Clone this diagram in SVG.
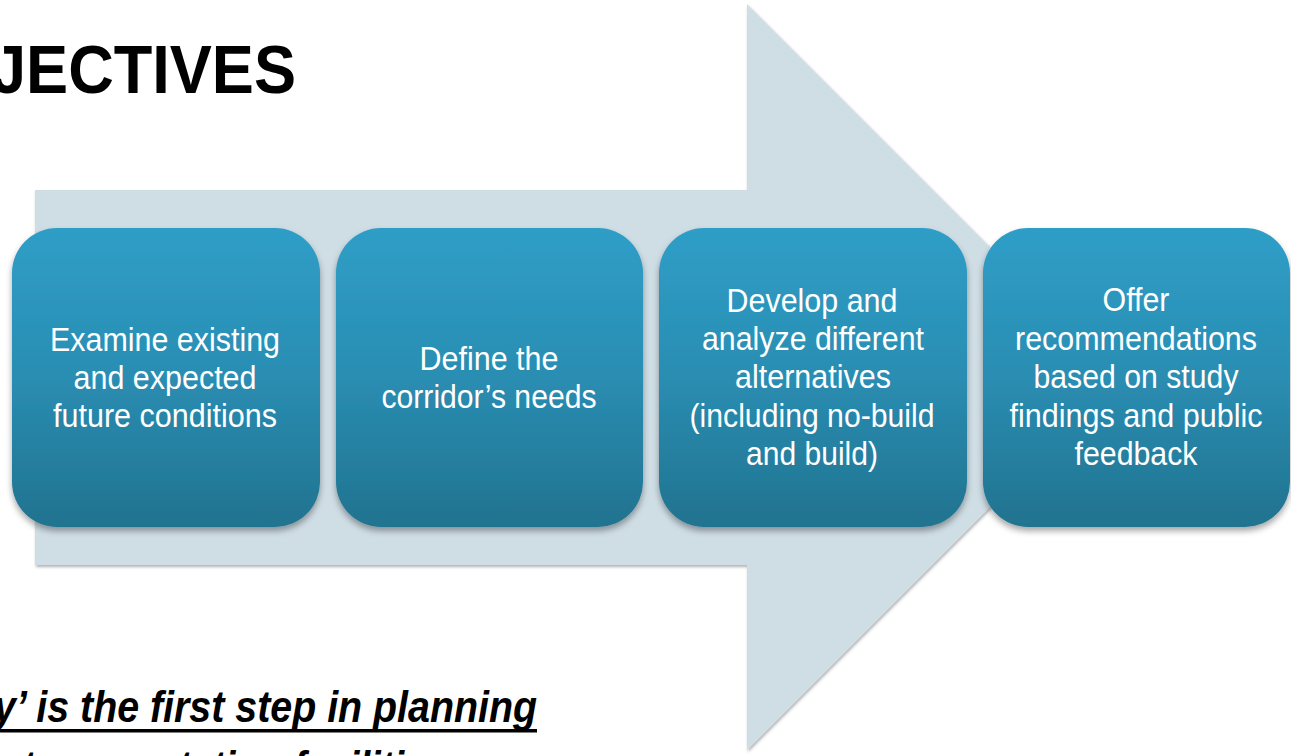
<svg xmlns="http://www.w3.org/2000/svg" width="1291" height="756" viewBox="0 0 1291 756">
  <defs>
    <linearGradient id="boxGrad" x1="0" y1="0" x2="0" y2="1">
      <stop offset="0" stop-color="#2F9EC7"/>
      <stop offset="0.5" stop-color="#2A8DB2"/>
      <stop offset="1" stop-color="#21738F"/>
    </linearGradient>
    <filter id="boxShadow" x="-10%" y="-10%" width="120%" height="125%">
      <feDropShadow dx="0" dy="4" stdDeviation="3" flood-color="#000" flood-opacity="0.35"/>
    </filter>
    <filter id="arrowShadow" x="-5%" y="-5%" width="110%" height="110%">
      <feDropShadow dx="1" dy="2" stdDeviation="1.5" flood-color="#000" flood-opacity="0.3"/>
    </filter>
    <style>
      .box { fill: url(#boxGrad); filter: url(#boxShadow); }
      .lbl { fill: #FFFFFF; font-family: "Liberation Sans Narrow", "Liberation Sans", Arial, sans-serif; font-size: 34px; }
      .title { fill: #000; font-family: "Liberation Sans", Arial, sans-serif; font-weight: bold; font-size: 68px; }
      .note { fill: #000; font-family: "Liberation Sans Narrow", "Liberation Sans", Arial, sans-serif; font-weight: bold; font-style: italic; font-size: 45px; }
    </style>
  </defs>
  <rect width="1291" height="756" fill="#FFFFFF"/>

  <text class="title" x="-9" y="93" textLength="305" lengthAdjust="spacingAndGlyphs">JECTIVES</text>

  <g id="arrow">
    <polygon points="35,190 747,190 747,4 1120,377 747,750 747,565 35,565" fill="#CFDDE5" filter="url(#arrowShadow)"/>
  </g>

  <g id="connectors"></g>

  <g id="node1">
    <rect class="box" x="12" y="228" width="308" height="299" rx="45" ry="45"/>
    <text class="lbl" x="165" y="351" text-anchor="middle" textLength="230" lengthAdjust="spacingAndGlyphs">Examine existing</text>
    <text class="lbl" x="165" y="389" text-anchor="middle" textLength="183" lengthAdjust="spacingAndGlyphs">and expected</text>
    <text class="lbl" x="165" y="427" text-anchor="middle" textLength="224" lengthAdjust="spacingAndGlyphs">future conditions</text>
  </g>

  <g id="node2">
    <rect class="box" x="336" y="228" width="307" height="299" rx="45" ry="45"/>
    <text class="lbl" x="489" y="370" text-anchor="middle" textLength="139" lengthAdjust="spacingAndGlyphs">Define the</text>
    <text class="lbl" x="489" y="408" text-anchor="middle" textLength="215" lengthAdjust="spacingAndGlyphs">corridor’s needs</text>
  </g>

  <g id="node3">
    <rect class="box" x="659" y="228" width="308" height="299" rx="45" ry="45"/>
    <text class="lbl" x="812" y="312" text-anchor="middle" textLength="171" lengthAdjust="spacingAndGlyphs">Develop and</text>
    <text class="lbl" x="813" y="350" text-anchor="middle" textLength="222" lengthAdjust="spacingAndGlyphs">analyze different</text>
    <text class="lbl" x="813" y="388" text-anchor="middle" textLength="156" lengthAdjust="spacingAndGlyphs">alternatives</text>
    <text class="lbl" x="812" y="427" text-anchor="middle" textLength="245" lengthAdjust="spacingAndGlyphs">(including no-build</text>
    <text class="lbl" x="812" y="465" text-anchor="middle" textLength="132" lengthAdjust="spacingAndGlyphs">and build)</text>
  </g>

  <g id="node4">
    <rect class="box" x="983" y="228" width="307" height="299" rx="45" ry="45"/>
    <text class="lbl" x="1136" y="311" text-anchor="middle" textLength="67" lengthAdjust="spacingAndGlyphs">Offer</text>
    <text class="lbl" x="1136" y="350" text-anchor="middle" textLength="242" lengthAdjust="spacingAndGlyphs">recommendations</text>
    <text class="lbl" x="1136" y="388" text-anchor="middle" textLength="205" lengthAdjust="spacingAndGlyphs">based on study</text>
    <text class="lbl" x="1136" y="427" text-anchor="middle" textLength="253" lengthAdjust="spacingAndGlyphs">findings and public</text>
    <text class="lbl" x="1136" y="465" text-anchor="middle" textLength="123" lengthAdjust="spacingAndGlyphs">feedback</text>
  </g>

  <g id="note">
    <text class="note" x="-6" y="722" textLength="543" lengthAdjust="spacingAndGlyphs">y’ is the first step in planning</text>
    <rect x="0" y="729" width="537" height="3.5" fill="#000"/>
    <text class="note" x="22" y="782" textLength="425" lengthAdjust="spacingAndGlyphs">transportation facilities</text>
  </g>
</svg>
